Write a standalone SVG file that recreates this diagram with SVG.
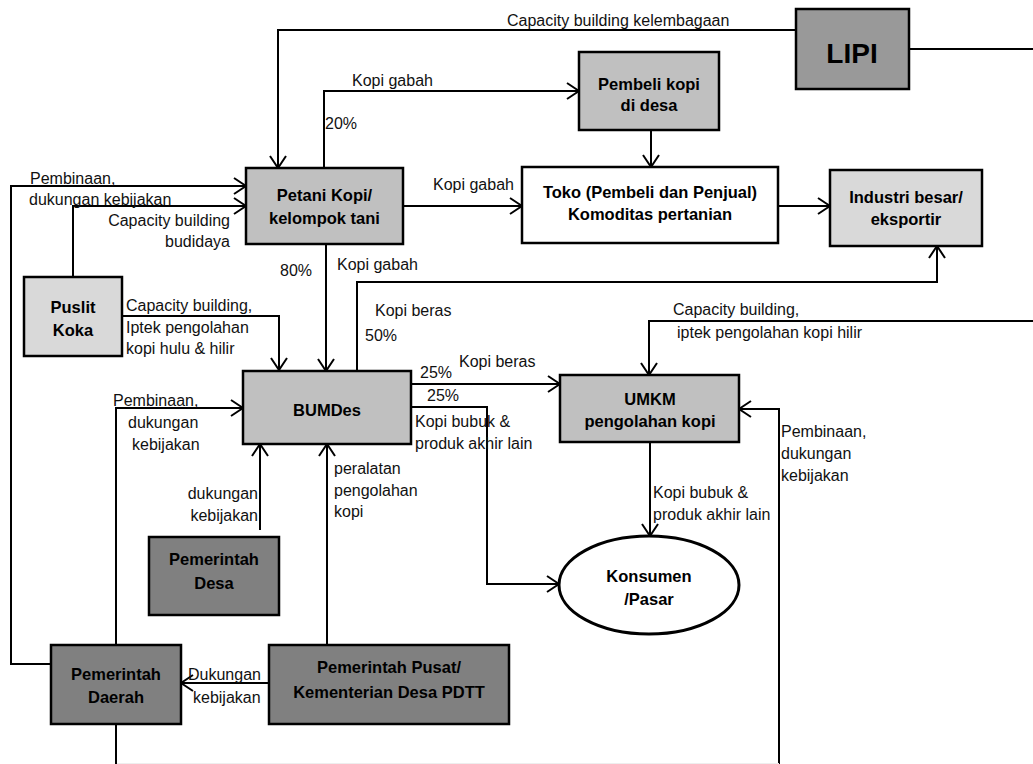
<svg xmlns="http://www.w3.org/2000/svg" width="1033" height="764" viewBox="0 0 1033 764">
<defs>
<marker id="arr" viewBox="0 0 14 18" refX="13" refY="9" markerWidth="14" markerHeight="18" orient="auto" markerUnits="userSpaceOnUse">
<path d="M1,1 L13,9 L1,17" fill="none" stroke="#000" stroke-width="2"/>
</marker>
<style>
.box{stroke:#000;stroke-width:2.5}
.g1{fill:#c0c0c0}
.g2{fill:#d9d9d9}
.g3{fill:#999999}
.g4{fill:#808080}
.w{fill:#fff}
.nt{font-family:"Liberation Sans",Arial,sans-serif;font-weight:bold;font-size:16.5px;fill:#000;text-anchor:middle}
.lb{font-family:"Liberation Sans",Arial,sans-serif;font-size:16px;fill:#111}
.c{fill:none;stroke:#000;stroke-width:2}
.ca{fill:none;stroke:#000;stroke-width:2;marker-end:url(#arr)}
</style>
</defs>
<rect width="1033" height="764" fill="#fff"/>

<g id="connectors">
<path class="ca" d="M796,30 H278 V168"/>
<path class="c" d="M909,49 H1033"/>
<path class="ca" d="M324,168 V91 H579"/>
<path class="ca" d="M651,130 V167"/>
<path class="ca" d="M403,206 H522"/>
<path class="ca" d="M778,206 H830"/>
<path class="ca" d="M51,664 H11 V186 H246"/>
<path class="ca" d="M73,277 V206 H246"/>
<path class="ca" d="M326,244 V371"/>
<path class="ca" d="M122,316 H279 V370"/>
<path class="ca" d="M357,371 V282 H937 V246"/>
<path class="ca" d="M411,384 H560"/>
<path class="ca" d="M411,407 H487 V584 H559"/>
<path class="ca" d="M116,645 V408 H243"/>
<path class="ca" d="M260,530 V444"/>
<path class="ca" d="M327,645 V444"/>
<path class="ca" d="M269,683 H181"/>
<path class="ca" d="M1033,321 H649 V375"/>
<path class="c" d="M116,724 V766"/>
<path class="ca" d="M779,766 V409 H739"/>
<path class="ca" d="M650,442 V536"/>
<path d="M117,763.5 H779" stroke="#eeeeee" stroke-width="1"/>
</g>

<g id="labels">
<text class="lb" x="507" y="26">Capacity building kelembagaan</text>
<text class="lb" x="352" y="86">Kopi gabah</text>
<text class="lb" x="325" y="129">20%</text>
<text class="lb" x="30" y="184">Pembinaan,</text>
<text class="lb" x="29" y="205">dukungan kebijakan</text>
<text class="lb" x="230" y="226" text-anchor="end">Capacity building</text>
<text class="lb" x="230" y="247" text-anchor="end">budidaya</text>
<text class="lb" x="433" y="190">Kopi gabah</text>
<text class="lb" x="280" y="276">80%</text>
<text class="lb" x="337" y="270">Kopi gabah</text>
<text class="lb" x="126" y="311">Capacity building,</text>
<text class="lb" x="126" y="333">Iptek pengolahan</text>
<text class="lb" x="126" y="354">kopi hulu &amp; hilir</text>
<text class="lb" x="375" y="316">Kopi beras</text>
<text class="lb" x="365" y="341">50%</text>
<text class="lb" x="420" y="378">25%</text>
<text class="lb" x="459" y="367">Kopi beras</text>
<text class="lb" x="427" y="401">25%</text>
<text class="lb" x="415" y="427">Kopi bubuk &amp;</text>
<text class="lb" x="415" y="449">produk akhir lain</text>
<text class="lb" x="113" y="406">Pembinaan,</text>
<text class="lb" x="128" y="428">dukungan</text>
<text class="lb" x="132" y="450">kebijakan</text>
<text class="lb" x="334" y="474">peralatan</text>
<text class="lb" x="334" y="496">pengolahan</text>
<text class="lb" x="334" y="517">kopi</text>
<text class="lb" x="258" y="499" text-anchor="end">dukungan</text>
<text class="lb" x="258" y="521" text-anchor="end">kebijakan</text>
<text class="lb" x="673" y="315">Capacity building,</text>
<text class="lb" x="677" y="338">iptek pengolahan kopi hilir</text>
<text class="lb" x="781" y="437">Pembinaan,</text>
<text class="lb" x="781" y="459">dukungan</text>
<text class="lb" x="781" y="481">kebijakan</text>
<text class="lb" x="653" y="498">Kopi bubuk &amp;</text>
<text class="lb" x="653" y="520">produk akhir lain</text>
<text class="lb" x="188" y="680">Dukungan</text>
<text class="lb" x="193" y="703">kebijakan</text>
</g>

<g id="lipi"><rect class="box g3" x="796" y="9" width="113" height="80"/><text class="nt" x="852" y="63" style="font-size:28px">LIPI</text></g>
<g id="pembeli"><rect class="box g1" x="579" y="52" width="140" height="78"/><text class="nt" x="649" y="90">Pembeli kopi</text><text class="nt" x="649" y="111">di desa</text></g>
<g id="petani"><rect class="box g1" x="246" y="168" width="157" height="76"/><text class="nt" x="324.5" y="201">Petani Kopi/</text><text class="nt" x="324.5" y="224">kelompok tani</text></g>
<g id="toko"><rect class="box w" x="522" y="167" width="256" height="76"/><text class="nt" x="650" y="198">Toko (Pembeli dan Penjual)</text><text class="nt" x="650" y="220">Komoditas pertanian</text></g>
<g id="industri"><rect class="box g2" x="830" y="170" width="152" height="76"/><text class="nt" x="906" y="203">Industri besar/</text><text class="nt" x="906" y="225">eksportir</text></g>
<g id="puslit"><rect class="box g2" x="24" y="277" width="98" height="79"/><text class="nt" x="73" y="313">Puslit</text><text class="nt" x="73" y="336">Koka</text></g>
<g id="bumdes"><rect class="box g1" x="243" y="371" width="168" height="73"/><text class="nt" x="327" y="416">BUMDes</text></g>
<g id="umkm"><rect class="box g1" x="560" y="375" width="179" height="67"/><text class="nt" x="650" y="405">UMKM</text><text class="nt" x="650" y="427">pengolahan kopi</text></g>
<g id="konsumen"><ellipse cx="649" cy="585" rx="90" ry="49" fill="#fff" stroke="#000" stroke-width="3"/><text class="nt" x="649" y="582">Konsumen</text><text class="nt" x="649" y="605">/Pasar</text></g>
<g id="pemdes"><rect class="box g4" x="149" y="537" width="130" height="78"/><text class="nt" x="214" y="565">Pemerintah</text><text class="nt" x="214" y="589">Desa</text></g>
<g id="pemda"><rect class="box g4" x="51" y="645" width="130" height="79"/><text class="nt" x="116" y="680">Pemerintah</text><text class="nt" x="116" y="703">Daerah</text></g>
<g id="pusat"><rect class="box g4" x="269" y="645" width="240" height="79"/><text class="nt" x="389" y="673">Pemerintah Pusat/</text><text class="nt" x="389" y="698">Kementerian Desa PDTT</text></g>
</svg>
